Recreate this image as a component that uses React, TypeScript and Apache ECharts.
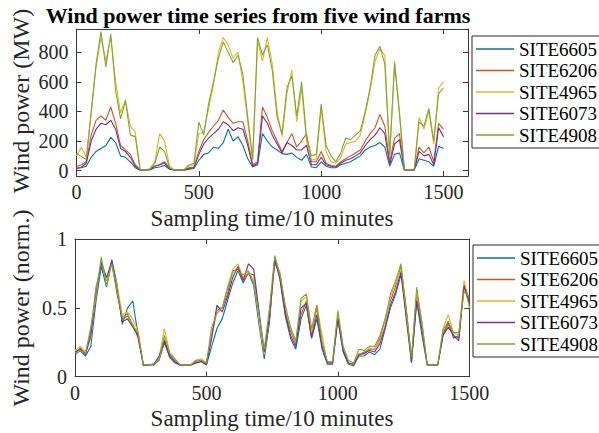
import React, { useEffect, useRef } from "react";
import * as echarts from "echarts";

// sampling positions (every 20 samples, 0..1500)
const sampleTimes = Array.from({ length: 76 }, (_, i) => i * 20);

const siteNames = ["SITE6605", "SITE6206", "SITE4965", "SITE6073", "SITE4908"];
const siteColors = ["#0072BD", "#D95319", "#EDB120", "#7E2F8E", "#77AC30"];

// ---- Top: wind power (MW) ----
const mwSite6605 = [15, 20, 30, 90, 130, 150, 170, 225, 190, 100, 90, 60, 20, 3, 3, 5, 20, 25, 35, 10, 3, 3, 3, 10, 15, 70, 110, 120, 160, 150, 190, 280, 200, 230, 170, 80, 25, 40, 250, 200, 160, 140, 115, 110, 120, 90, 70, 110, 25, 20, 60, 30, 20, 20, 40, 50, 60, 80, 100, 140, 160, 170, 190, 160, 30, 110, 120, 3, 3, 3, 80, 70, 60, 30, 165, 150];
const mwSite6206 = [28, 40, 60, 240, 340, 370, 340, 430, 320, 170, 140, 110, 40, 5, 5, 10, 30, 40, 60, 20, 5, 5, 5, 20, 25, 130, 210, 260, 300, 340, 410, 360, 320, 330, 330, 200, 40, 60, 430, 360, 270, 200, 130, 190, 250, 160, 200, 250, 60, 60, 130, 50, 35, 30, 60, 80, 100, 120, 140, 200, 250, 290, 380, 300, 60, 220, 250, 5, 5, 5, 160, 120, 160, 60, 320, 280];
const mwSite4965 = [100, 160, 90, 380, 700, 900, 740, 900, 600, 390, 480, 300, 260, 8, 5, 15, 60, 250, 200, 30, 5, 5, 10, 30, 40, 250, 260, 420, 580, 800, 900, 850, 760, 800, 600, 330, 70, 880, 740, 900, 720, 400, 230, 520, 680, 330, 560, 200, 70, 80, 420, 130, 60, 50, 90, 180, 190, 200, 240, 380, 540, 740, 820, 780, 90, 740, 400, 5, 5, 5, 360, 280, 400, 180, 560, 600];
const mwSite6073 = [15, 25, 50, 200, 280, 320, 310, 340, 280, 150, 130, 90, 30, 5, 5, 10, 30, 40, 50, 15, 5, 5, 5, 15, 20, 110, 180, 220, 250, 280, 330, 310, 270, 290, 280, 170, 30, 50, 370, 320, 240, 180, 120, 190, 170, 140, 140, 170, 40, 40, 90, 40, 30, 25, 50, 70, 80, 100, 120, 170, 210, 240, 290, 250, 40, 180, 210, 5, 5, 5, 130, 100, 110, 40, 290, 230];
const mwSite4908 = [118, 95, 75, 400, 720, 940, 700, 925, 540, 350, 470, 240, 230, 5, 5, 10, 50, 160, 130, 20, 5, 5, 5, 40, 50, 330, 240, 455, 600, 760, 870, 800, 730, 780, 650, 360, 80, 900, 780, 850, 680, 360, 250, 560, 640, 370, 600, 230, 100, 110, 450, 170, 100, 60, 120, 220, 210, 240, 270, 400, 560, 780, 840, 720, 110, 720, 380, 5, 5, 5, 330, 300, 420, 200, 520, 560];

// ---- Bottom: wind power (normalised) ----
const nmSite6605 = [0.16, 0.19, 0.15, 0.22, 0.55, 0.8, 0.65, 0.85, 0.67, 0.38, 0.5, 0.55, 0.3, 0.08, 0.085, 0.085, 0.12, 0.25, 0.14, 0.1, 0.085, 0.085, 0.085, 0.1, 0.11, 0.085, 0.22, 0.35, 0.42, 0.55, 0.68, 0.77, 0.68, 0.76, 0.66, 0.38, 0.13, 0.4, 0.87, 0.7, 0.44, 0.28, 0.2, 0.42, 0.52, 0.28, 0.42, 0.2, 0.09, 0.09, 0.42, 0.18, 0.09, 0.08, 0.15, 0.15, 0.18, 0.16, 0.2, 0.35, 0.5, 0.6, 0.74, 0.48, 0.1, 0.55, 0.3, 0.085, 0.085, 0.085, 0.3, 0.4, 0.28, 0.3, 0.66, 0.52];
const nmSite6206 = [0.17, 0.21, 0.17, 0.33, 0.65, 0.82, 0.7, 0.83, 0.6, 0.42, 0.44, 0.38, 0.28, 0.085, 0.085, 0.09, 0.13, 0.27, 0.16, 0.12, 0.085, 0.085, 0.085, 0.11, 0.12, 0.09, 0.3, 0.48, 0.5, 0.6, 0.77, 0.78, 0.7, 0.75, 0.74, 0.44, 0.16, 0.42, 0.86, 0.74, 0.48, 0.33, 0.24, 0.45, 0.55, 0.3, 0.5, 0.24, 0.1, 0.1, 0.44, 0.2, 0.1, 0.09, 0.16, 0.18, 0.2, 0.2, 0.28, 0.42, 0.55, 0.66, 0.8, 0.5, 0.12, 0.6, 0.38, 0.085, 0.085, 0.085, 0.32, 0.38, 0.3, 0.28, 0.68, 0.56];
const nmSite4965 = [0.19, 0.22, 0.18, 0.28, 0.62, 0.84, 0.7, 0.82, 0.66, 0.45, 0.47, 0.42, 0.33, 0.085, 0.085, 0.09, 0.14, 0.35, 0.18, 0.13, 0.085, 0.085, 0.085, 0.12, 0.13, 0.1, 0.3, 0.5, 0.5, 0.65, 0.78, 0.82, 0.72, 0.76, 0.7, 0.42, 0.16, 0.45, 0.82, 0.76, 0.5, 0.35, 0.25, 0.55, 0.58, 0.32, 0.52, 0.3, 0.1, 0.1, 0.46, 0.22, 0.1, 0.09, 0.17, 0.16, 0.21, 0.2, 0.26, 0.38, 0.58, 0.68, 0.78, 0.46, 0.12, 0.62, 0.4, 0.085, 0.085, 0.085, 0.35, 0.45, 0.32, 0.3, 0.7, 0.5];
const nmSite6073 = [0.18, 0.2, 0.16, 0.3, 0.6, 0.83, 0.72, 0.84, 0.63, 0.4, 0.42, 0.36, 0.3, 0.085, 0.085, 0.09, 0.15, 0.26, 0.15, 0.11, 0.085, 0.085, 0.085, 0.1, 0.11, 0.09, 0.28, 0.52, 0.47, 0.58, 0.72, 0.8, 0.7, 0.82, 0.78, 0.48, 0.18, 0.44, 0.84, 0.72, 0.46, 0.3, 0.22, 0.5, 0.53, 0.28, 0.45, 0.22, 0.1, 0.1, 0.42, 0.19, 0.1, 0.09, 0.16, 0.17, 0.19, 0.18, 0.24, 0.36, 0.52, 0.62, 0.76, 0.42, 0.11, 0.55, 0.34, 0.085, 0.085, 0.085, 0.3, 0.36, 0.3, 0.26, 0.66, 0.54];
const nmSite4908 = [0.17, 0.19, 0.17, 0.36, 0.58, 0.87, 0.66, 0.82, 0.62, 0.43, 0.46, 0.37, 0.32, 0.09, 0.085, 0.095, 0.12, 0.3, 0.17, 0.13, 0.085, 0.085, 0.085, 0.12, 0.12, 0.1, 0.36, 0.46, 0.5, 0.64, 0.76, 0.76, 0.74, 0.77, 0.68, 0.45, 0.2, 0.5, 0.88, 0.74, 0.52, 0.36, 0.26, 0.57, 0.6, 0.35, 0.52, 0.25, 0.11, 0.11, 0.48, 0.22, 0.12, 0.1, 0.2, 0.19, 0.22, 0.22, 0.3, 0.42, 0.6, 0.7, 0.82, 0.48, 0.14, 0.65, 0.38, 0.085, 0.085, 0.085, 0.34, 0.4, 0.32, 0.32, 0.62, 0.58];

const mwSeries = [mwSite6605, mwSite6206, mwSite4965, mwSite6073, mwSite4908];
const nmSeries = [nmSite6605, nmSite6206, nmSite4965, nmSite6073, nmSite4908];

const xTicksTop = [0, 500, 1000, 1500];
const yTicksTop = [0, 200, 400, 600, 800];
const xTicksBottom = [0, 500, 1000, 1500];
const yTicksBottom = [0, 0.5, 1];

const FONT = '"Liberation Serif", "Times New Roman", serif';
const AXIS_COLOR = "#3a3a3a";

function axisBase(extra: any) {
  return {
    type: "value",
    splitLine: { show: false },
    axisLine: { show: true, onZero: false, lineStyle: { color: AXIS_COLOR, width: 1 } },
    ...extra,
  };
}

export default function App() {
  const ref = useRef<HTMLDivElement>(null);
  useEffect(() => {
    if (!ref.current) return;
    const chart = echarts.init(ref.current, undefined, { renderer: "svg" });
    const labelStyle = {
      fontSize: 20, fontFamily: FONT, color: "#262626", margin: 6,
      formatter: (v: number) => String(v),
    };
    const tick = (vals: number[]) => ({
      show: true, inside: true, length: 5, customValues: vals, lineStyle: { color: AXIS_COLOR },
    });

    const grids = [
      { left: 76.5, top: 29, width: 391.5, height: 147 },
      { left: 75, top: 239, width: 394.3, height: 137.7 },
    ];

    const xAxis = [
      axisBase({ gridIndex: 0, position: "bottom", min: 0, max: 1600, axisTick: tick(xTicksTop), axisLabel: { ...labelStyle, customValues: xTicksTop } }),
      axisBase({ gridIndex: 0, position: "top", min: 0, max: 1600, axisTick: tick(xTicksTop), axisLabel: { show: false } }),
      axisBase({ gridIndex: 1, position: "bottom", min: 0, max: 1500, axisTick: tick(xTicksBottom), axisLabel: { ...labelStyle, customValues: xTicksBottom } }),
      axisBase({ gridIndex: 1, position: "top", min: 0, max: 1500, axisTick: tick(xTicksBottom), axisLabel: { show: false } }),
    ];

    const yAxis = [
      axisBase({ gridIndex: 0, position: "left", min: -36, max: 957, axisTick: tick(yTicksTop), axisLabel: { ...labelStyle, margin: 8, customValues: yTicksTop } }),
      axisBase({ gridIndex: 0, position: "right", min: -36, max: 957, axisTick: tick(yTicksTop), axisLabel: { show: false } }),
      axisBase({ gridIndex: 1, position: "left", min: 0, max: 1, axisTick: tick(yTicksBottom), axisLabel: { ...labelStyle, margin: 8, customValues: yTicksBottom } }),
      axisBase({ gridIndex: 1, position: "right", min: 0, max: 1, axisTick: tick(yTicksBottom), axisLabel: { show: false } }),
    ];

    const series: any[] = [];
    mwSeries.forEach((arr, k) => {
      series.push({
        type: "line", name: siteNames[k], xAxisIndex: 0, yAxisIndex: 0,
        symbol: "none", showSymbol: false,
        lineStyle: { width: 1.1, color: siteColors[k] }, itemStyle: { color: siteColors[k] },
        data: sampleTimes.map((t, i) => [t, arr[i]]),
      });
    });
    nmSeries.forEach((arr, k) => {
      series.push({
        type: "line", name: siteNames[k], xAxisIndex: 2, yAxisIndex: 2,
        symbol: "none", showSymbol: false,
        lineStyle: { width: 1.1, color: siteColors[k] }, itemStyle: { color: siteColors[k] },
        data: sampleTimes.map((t, i) => [t, arr[i]]),
      });
    });

    const legendBase = {
      data: siteNames,
      orient: "vertical",
      left: 472,
      icon: "rect",
      itemWidth: 38,
      itemHeight: 1.3,
      itemGap: 2.5,
      padding: [3.5, 6, 3.5, 4],
      borderColor: "#262626",
      borderWidth: 1,
      backgroundColor: "#ffffff",
      selectedMode: false,
      textStyle: { fontSize: 19, fontFamily: FONT, color: "#000", lineHeight: 19 },
    };

    const option: any = {
      animation: false,
      backgroundColor: "#ffffff",
      grid: grids,
      xAxis,
      yAxis,
      series,
      legend: [
        { ...legendBase, top: 36 },
        { ...legendBase, top: 245, left: 473 },
      ],
      graphic: [
        {
          type: "text", x: 258, y: 15,
          style: { text: "Wind power time series from five wind farms", font: `bold 22px ${FONT}`, fill: "#000", textAlign: "center", textVerticalAlign: "middle" },
        },
        {
          type: "text", x: 272, y: 218,
          style: { text: "Sampling time/10 minutes", font: `23px ${FONT}`, fill: "#262626", textAlign: "center", textVerticalAlign: "middle" },
        },
        {
          type: "text", x: 272, y: 418,
          style: { text: "Sampling time/10 minutes", font: `23px ${FONT}`, fill: "#262626", textAlign: "center", textVerticalAlign: "middle" },
        },
        {
          type: "text", x: 21, y: 101, rotation: Math.PI / 2,
          style: { text: "Wind power (MW)", font: `24px ${FONT}`, fill: "#262626", textAlign: "center", textVerticalAlign: "middle" },
        },
        {
          type: "text", x: 21, y: 308, rotation: Math.PI / 2,
          style: { text: "Wind power (norm.)", font: `24px ${FONT}`, fill: "#262626", textAlign: "center", textVerticalAlign: "middle" },
        },
      ],
    };
    chart.setOption(option);
    return () => chart.dispose();
  }, []);
  return <div ref={ref} style={{ width: 599, height: 433, position: "absolute", left: 0, top: 0 }} />;
}
